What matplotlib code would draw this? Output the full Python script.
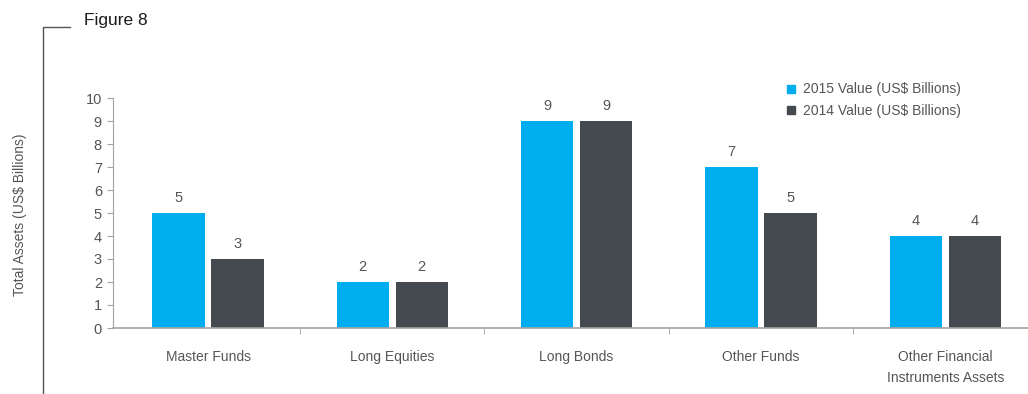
import numpy as np
import matplotlib.pyplot as plt
from matplotlib.lines import Line2D

categories = ['Master Funds', 'Long Equities', 'Long Bonds', 'Other Funds',
              'Other Financial\nInstruments Assets']
values_2015 = [5, 2, 9, 7, 4]
values_2014 = [3, 2, 9, 5, 4]
series_names = ['2015 Value (US$ Billions)', '2014 Value (US$ Billions)']

blue = '#00aeef'
dark = '#454950'
txt = '#555555'
axis_col = '#a8a29e'

plt.rcParams['font.family'] = ['Liberation Sans', 'DejaVu Sans']

fig = plt.figure(figsize=(10.28, 3.94), dpi=100)
W, H = 1028, 394
left, right, top, bottom = 113, 1028, 98, 328
ax = fig.add_axes([left / W, 1 - bottom / H, (right - left) / W, (bottom - top) / H])

x = np.arange(len(categories))
bw = 0.284
off = 0.16
ax.bar(x - off, values_2015, bw, color=blue, zorder=2)
ax.bar(x + off, values_2014, bw, color=dark, zorder=2)

for xi, v in zip(x - off, values_2015):
    ax.text(xi, v + 0.35, str(v), ha='center', va='bottom', fontsize=10.5, color=txt)
for xi, v in zip(x + off, values_2014):
    ax.text(xi, v + 0.35, str(v), ha='center', va='bottom', fontsize=10.5, color=txt)

step = 184.3
c0 = 208
ax.set_xlim((left - c0) / step, (right - c0) / step)
ax.set_ylim(0, 10)
ax.set_yticks(range(0, 11))
ax.tick_params(axis='y', labelsize=10.5, labelcolor=txt, color=axis_col, length=4, pad=4)

ax.set_xticks(x)
ax.set_xticklabels(categories, fontsize=10, color=txt, linespacing=1.6)
ax.tick_params(axis='x', length=0, pad=16)
ax.set_xticks(np.arange(len(categories) - 1) + 0.5, minor=True)
ax.tick_params(axis='x', which='minor', length=4, color=axis_col, direction='out')

for s in ['top', 'right']:
    ax.spines[s].set_visible(False)
ax.spines['left'].set_color(axis_col)
ax.spines['bottom'].set_color(axis_col)
ax.spines['bottom'].set_linewidth(1.2)
ax.set_facecolor('none')

handles = [Line2D([], [], marker='s', linestyle='', color=blue, markersize=6),
           Line2D([], [], marker='s', linestyle='', color=dark, markersize=6)]
fig.legend(handles, series_names, loc='upper left', bbox_to_anchor=(772 / W, 1 - 70 / H),
           frameon=False, fontsize=10, labelcolor=txt, handletextpad=0.3,
           labelspacing=0.55, handlelength=1.0)

fig.text(84 / W, 1 - 20 / H, 'Figure 8', fontsize=12.5, color='#1a1a1a', va='center', ha='left')
fig.text(20 / W, 1 - 215 / H, 'Total Assets (US$ Billions)', rotation=90, fontsize=10,
         color=txt, va='center', ha='center')
fig.add_artist(Line2D([43 / W, 43 / W, 70 / W], [0, 1 - 27 / H, 1 - 27 / H],
                      color='#555555', linewidth=1, transform=fig.transFigure))

fig.savefig('out.png', dpi=100)
